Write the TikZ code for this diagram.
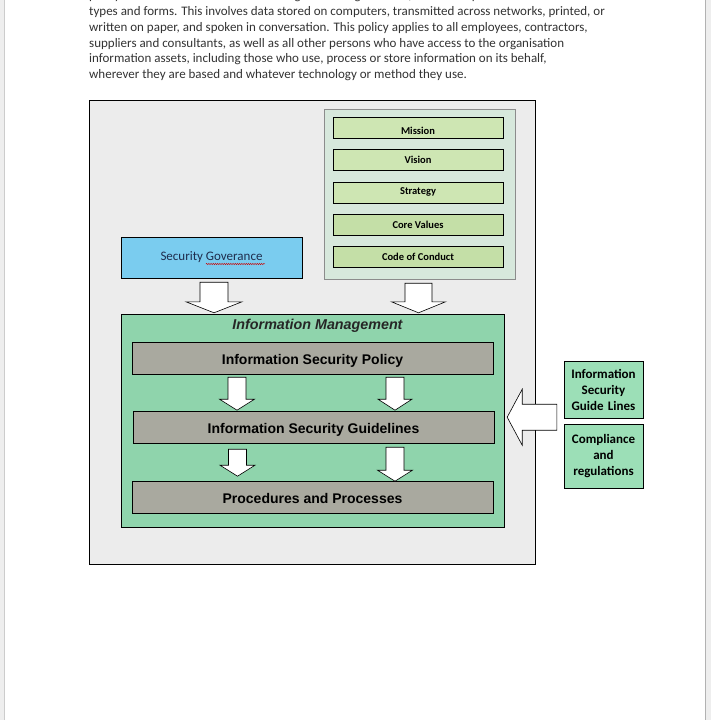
\documentclass[tikz,border=0pt]{standalone}
\usepackage{fontspec}
\setmainfont{Carlito}
\newfontfamily\arialfont{Liberation Sans}
\usetikzlibrary{positioning,calc,decorations.pathmorphing}

\definecolor{pagegray}{HTML}{EEEEEE}
\definecolor{outergray}{HTML}{ECECEC}
\definecolor{panelgreen}{HTML}{D7E8DC}
\definecolor{valgreen}{HTML}{CEE6B3}
\definecolor{valgreendk}{HTML}{C4DFA7}
\definecolor{govblue}{HTML}{7ACCEF}
\definecolor{govtext}{HTML}{1F2D4D}
\definecolor{mgmtgreen}{HTML}{8FD4AC}
\definecolor{policygray}{HTML}{A9A99F}
\definecolor{guidegreen}{HTML}{9CDFB7}
\definecolor{bodytext}{HTML}{333333}

\tikzset{
  box/.style    = {draw, inner sep=0pt, align=center},
  valuebox/.style = {box, minimum width=170pt, minimum height=21pt, fill=valgreen,
                   font=\fontsize{10.5}{12}\selectfont\bfseries},
  layerbox/.style = {box, minimum width=361pt, minimum height=32pt, fill=policygray,
                   text height=15pt, text depth=3pt,
                   font=\arialfont\fontsize{14}{16}\selectfont\bfseries},
  sidebox/.style  = {box, minimum width=79pt, fill=guidegreen, text width=77pt,
                   font=\fontsize{13}{16}\selectfont\bfseries},
  bodyline/.style = {anchor=west, inner sep=0pt, text=bodytext,
                   font=\fontsize{13}{16}\selectfont},
  blockarrow/.style = {draw, fill=white, line width=0.6pt, line join=miter},
}

% downward block arrow: start, tip, shaft half width, head half width
\newcommand{\downblock}[4]{%
  \draw[blockarrow] let \p1=(#1), \p2=(#2) in
    (\x1-#3pt,\y1) -- (\x1+#3pt,\y1) -- (\x1+#3pt,\y2+11pt) -- (\x1+#4pt,\y2+11pt)
    -- (\x1,\y2) -- (\x1-#4pt,\y2+11pt) -- (\x1-#3pt,\y2+11pt) -- cycle;}

\begin{document}
\begin{tikzpicture}[x=1pt, y=-1pt]
\useasboundingbox (0,0) rectangle (711,720);
\clip (0,0) rectangle (711,720);

% page
\fill[white] (0,0) rectangle (711,720);
\fill[pagegray] (0,0) rectangle (4,720);
\fill[pagegray] (706,0) rectangle (711,720);
\draw[black!20] (4.5,0) -- (4.5,720);
\draw[black!30, line width=1pt] (705.5,0) -- (705.5,720);

% text above the figure
\node (t1) [bodyline] at (89,-4)  {policy covers all information that belongs to the organisation, in all of its possible};
\node (t2) [bodyline] at (89,12)  {types and forms. This involves data stored on computers, transmitted across networks, printed, or};
\node (t3) [bodyline] at (89,28)  {written on paper, and spoken in conversation. This policy applies to all employees, contractors,};
\node (t4) [bodyline] at (89,44)  {suppliers and consultants, as well as all other persons who have access to the organisation};
\node (t5) [bodyline] at (89,59)  {information assets, including those who use, process or store information on its behalf,};
\node (t6) [bodyline] at (89,75)  {wherever they are based and whatever technology or method they use.};

% frame
\node (O) [box, fill=outergray, minimum width=446pt, minimum height=464pt, line width=0.8pt] at (312,332) {};

% values panel
\node (V) [box, fill=panelgreen, draw=black!45, minimum width=191pt, minimum height=170pt] at (419.5,194) {};
\node (M)  [valuebox] at (418,127.5) {\raisebox{-7pt}[0pt][0pt]{Mission}};
\node (Vi) [valuebox, below=11pt of M]  {Vision};
\node (S)  [valuebox, below=11pt of Vi] {Strategy};
\node (CV) [valuebox, below=11pt of S, fill=valgreendk]  {Core Values};
\node (CC) [valuebox, below=11pt of CV, fill=valgreendk] {Code of Conduct};

% governance
\node (G) [box, fill=govblue, text=govtext, minimum width=181pt, minimum height=41pt,
           font=\fontsize{13}{15}\selectfont] at (211.5,257.5) {Security Goverance};
\draw[red!80!black, line width=0.4pt, decorate,
      decoration={snake, amplitude=0.7pt, segment length=2.2pt}]
  ($(G.center)+(-5.5,6.5)$) -- ($(G.center)+(53.5,6.5)$);

% information management
\node (IM) [box, fill=mgmtgreen, minimum width=383pt, minimum height=213pt] at (312.5,420.5) {};
\node (IMt) [below=5pt of IM.north, xshift=5pt, inner sep=0pt, text=black!85,
             font=\arialfont\fontsize{14.3}{16}\selectfont\bfseries\itshape] {Information Management};
\node (P1) [layerbox] at (312.5,358) {Information Security Policy};
\node (P2) [layerbox] at (313.5,427) {Information Security Guidelines};
\node (P3) [layerbox] at (312.5,497) {Procedures and Processes};

% side boxes
\node (GL) [sidebox, minimum height=57pt] at (603.5,389.5) {Information\\Security\\Guide Lines};
\node (CR) [sidebox, minimum height=64pt] at (603.5,456) {Compliance\\and\\regulations};

% block arrows
\downblock{$(G.south)+(2.5,4)$}{$(G.south |- IM.north)+(2.5,-1)$}{14}{28}
\downblock{$(V.south)+(-1,4)$}{$(V.south |- IM.north)+(-1,-1)$}{13.5}{27}
\downblock{$(P1.south)+(-75.5,3)$}{$(P1.south)+(-75.5,36)$}{9}{17.5}
\downblock{$(P1.south)+(82.5,3)$}{$(P1.south)+(82.5,36)$}{9}{17}
\downblock{$(P2.south)+(-76,6)$}{$(P2.south)+(-76,33)$}{9}{17.5}
\downblock{$(P2.south)+(81.5,4)$}{$(P2.south)+(81.5,38)$}{9}{17.5}

\coordinate (gl) at ($(GL.south west)+(-7,-1)$);
\draw[blockarrow] let \p1=(gl), \p2=(IM.east) in
  (\x1,\y1+13pt) -- (\x1,\y1-13pt) -- (\x2+18pt,\y1-13pt) -- (\x2+18pt,\y1-28pt)
  -- (\x2+3pt,\y1) -- (\x2+18pt,\y1+28pt) -- (\x2+18pt,\y1+13pt) -- cycle;
\end{tikzpicture}
\end{document}
